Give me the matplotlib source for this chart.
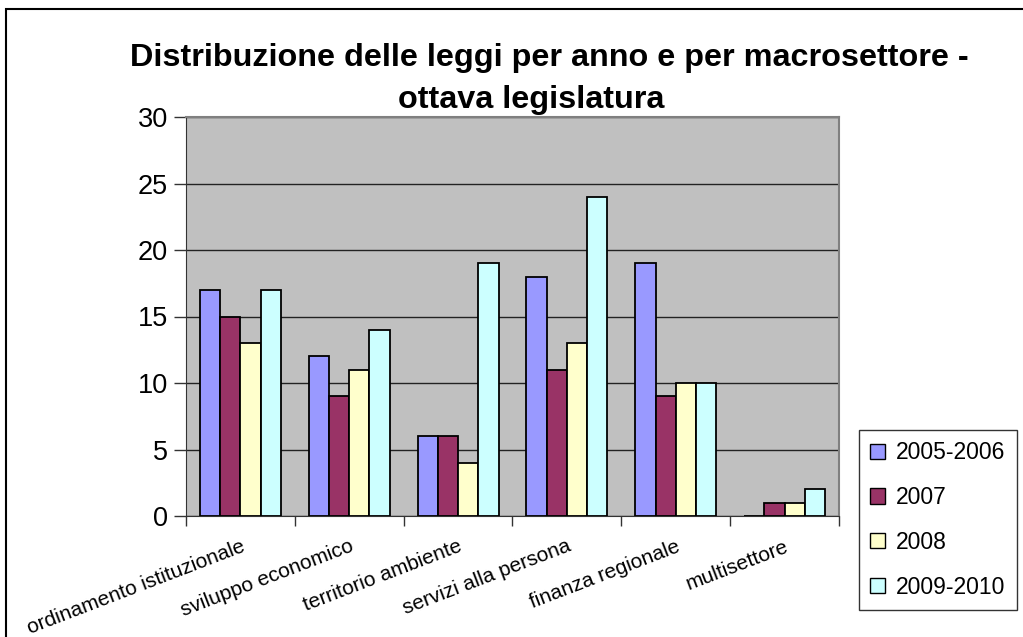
import matplotlib
matplotlib.use("Agg")
import matplotlib.pyplot as plt
import numpy as np
from matplotlib.patches import Rectangle

categories = ["ordinamento istituzionale", "sviluppo economico", "territorio ambiente",
              "servizi alla persona", "finanza regionale", "multisettore"]
series_names = ["2005-2006", "2007", "2008", "2009-2010"]
v_2005_2006 = [17, 12, 6, 18, 19, 0]
v_2007 = [15, 9, 6, 11, 9, 1]
v_2008 = [13, 11, 4, 13, 10, 1]
v_2009_2010 = [17, 14, 19, 24, 10, 2]
series_values = [v_2005_2006, v_2007, v_2008, v_2009_2010]
colors = ["#9999FF", "#993366", "#FFFFCC", "#CCFFFF"]
yticks = [0, 5, 10, 15, 20, 25, 30]
title_line1 = "Distribuzione delle leggi per anno e per macrosettore -"
title_line2 = "ottava legislatura"

plt.rcParams['font.family'] = ['Liberation Sans', 'DejaVu Sans']

W, H = 1023, 637
fig = plt.figure(figsize=(W / 100, H / 100), dpi=100)
fig.patch.set_facecolor("white")

# outer chart border
fig.add_artist(Rectangle((6 / W, -0.01), 1.1, (H - 9) / H + 0.01, transform=fig.transFigure,
                         fill=False, edgecolor="black", linewidth=1.5))

left, right, top, bottom = 186, 839, 117, 516
ax = fig.add_axes([left / W, (H - bottom) / H, (right - left) / W, (bottom - top) / H])
ax.set_facecolor("#C0C0C0")

n = len(categories)
x = np.arange(n)
bw = 0.186
offsets = (np.arange(4) - 1.5) * bw
for i, (name, vals) in enumerate(zip(series_names, series_values)):
    ax.bar(x + offsets[i], vals, width=bw, color=colors[i], edgecolor="black",
           linewidth=1.3, label=name, zorder=3)

ax.set_xlim(-0.5, n - 0.5)
ax.set_ylim(0, 30)
ax.set_yticks(yticks)
ax.tick_params(axis="y", labelsize=19.5, length=9, width=1, direction="out", pad=4, color="#333333")
ax.yaxis.grid(True, color="#222222", linewidth=1, zorder=1)
ax.set_axisbelow(True)

# category boundary ticks
ax.set_xticks(np.arange(-0.5, n, 1.0))
ax.set_xticklabels([])
ax.tick_params(axis="x", length=7, width=1, direction="out", color="#333333")
ax.set_xticks(x, minor=True)
ax.set_xticklabels(categories, minor=True, rotation=21, ha="right", rotation_mode="anchor",
                   fontsize=15)
ax.tick_params(axis="x", which="minor", length=0, pad=15)

for s in ["top", "right"]:
    ax.spines[s].set_color("#808080")
    ax.spines[s].set_linewidth(1.5)
ax.spines["left"].set_color("#333333")
ax.spines["bottom"].set_color("#333333")

fig.text(549 / W, 1 - 58 / H, title_line1, ha="center", va="center", fontsize=23.3,
         fontweight="bold")
fig.text(531 / W, 1 - 100 / H, title_line2, ha="center", va="center", fontsize=23.3,
         fontweight="bold")

leg = ax.legend(loc="lower left", bbox_to_anchor=(859 / W, (H - 610) / H),
                bbox_transform=fig.transFigure, borderaxespad=0, fontsize=16.5,
                handlelength=0.65, handleheight=0.65, handletextpad=0.45,
                labelspacing=0.95, borderpad=0.5, fancybox=False, frameon=True)
leg.get_frame().set_edgecolor("black")
leg.get_frame().set_linewidth(1)
for h in leg.legend_handles:
    h.set_linewidth(1)

fig.savefig("out.png", dpi=100)
